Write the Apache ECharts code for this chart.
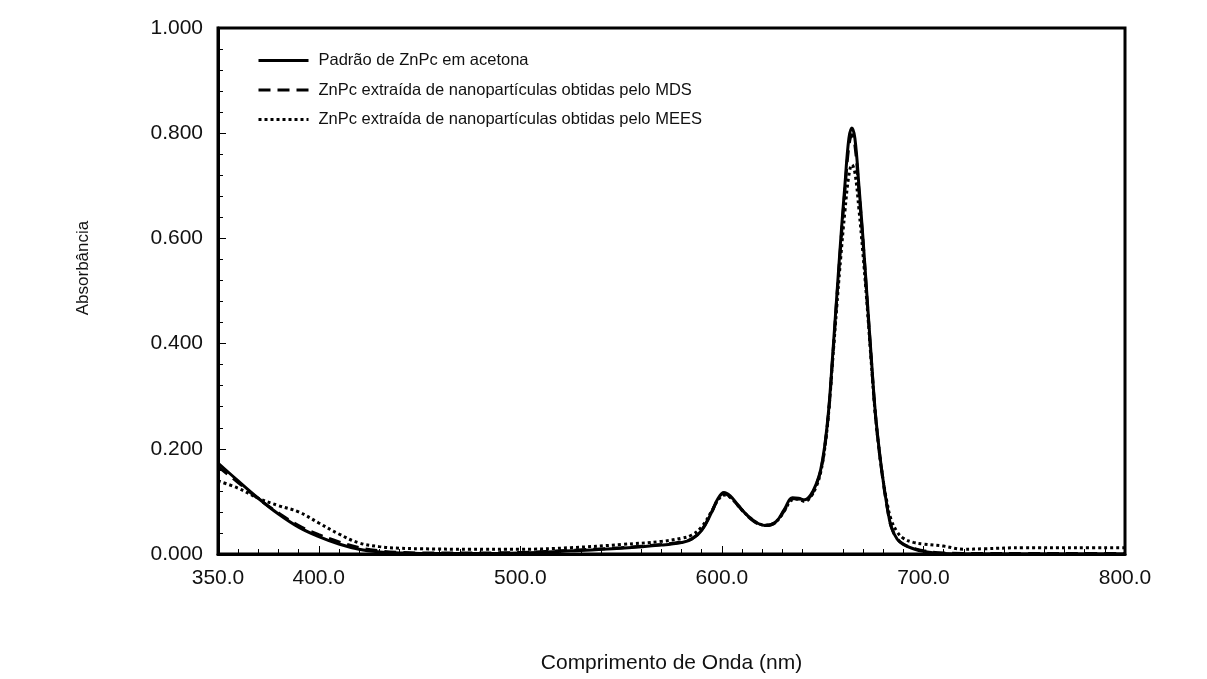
<!DOCTYPE html>
<html>
<head>
<meta charset="utf-8">
<script src="https://cdn.jsdelivr.net/npm/echarts@6/dist/echarts.min.js"></script>
<style>
html,body{margin:0;padding:0;background:#fff;}
#chart{width:1207px;height:679px;}
</style>
</head>
<body>
<div id="chart"></div>
<script>
var wavelengths = [350,360,370,380,390,400,410,420,430,440,450,475,500,525,550,570,580,585,590,595,598,601,604,608,613,618,622,627,631,635,638,641,644,647,649,651,653,655,657,659,661,663,664.5,666,668,670,672,674,676,678,680,682,684,687,690,695,700,710,720,730,750,775,800];

var padrao = [0.173,0.139,0.106,0.076,0.051,0.033,0.019,0.009,0.004,0.002,0.001,0.001,0.002,0.006,0.011,0.017,0.022,0.028,0.045,0.080,0.105,0.117,0.111,0.093,0.072,0.058,0.054,0.062,0.085,0.107,0.106,0.103,0.112,0.135,0.160,0.205,0.275,0.38,0.49,0.60,0.70,0.79,0.81,0.79,0.70,0.60,0.49,0.38,0.275,0.20,0.14,0.09,0.052,0.028,0.018,0.010,0.005,0.001,0.000,0.000,0.000,0.000,0.000];

var mds = [0.166,0.136,0.105,0.078,0.054,0.037,0.023,0.012,0.006,0.003,0.002,0.002,0.003,0.007,0.012,0.018,0.023,0.029,0.046,0.080,0.104,0.115,0.109,0.092,0.071,0.057,0.054,0.061,0.083,0.105,0.105,0.102,0.110,0.134,0.158,0.202,0.272,0.375,0.485,0.59,0.69,0.775,0.797,0.777,0.69,0.595,0.485,0.377,0.272,0.198,0.138,0.089,0.052,0.029,0.019,0.011,0.006,0.002,0.001,0.001,0.001,0.001,0.001];

var mees = [0.139,0.125,0.106,0.092,0.080,0.059,0.038,0.021,0.014,0.011,0.010,0.009,0.009,0.012,0.018,0.024,0.030,0.036,0.052,0.082,0.102,0.112,0.108,0.092,0.072,0.058,0.055,0.062,0.082,0.103,0.104,0.100,0.108,0.130,0.155,0.200,0.27,0.37,0.47,0.565,0.65,0.72,0.74,0.725,0.655,0.57,0.475,0.37,0.27,0.197,0.14,0.097,0.065,0.042,0.030,0.022,0.019,0.015,0.009,0.010,0.012,0.012,0.012];

var seriesNames = ['Padrão de ZnPc em acetona','ZnPc extraída de nanopartículas obtidas pelo MDS','ZnPc extraída de nanopartículas obtidas pelo MEES'];
var xLabelValues = [350,400,500,600,700,800];
var xMajorTicks = [400,500,600,700,800];
var xTitle = 'Comprimento de Onda (nm)';
var yTitle = 'Absorbância';

function pairs(ys){ return wavelengths.map(function(x,i){ return [x, ys[i]]; }); }

var chart = echarts.init(document.getElementById('chart'), null, {renderer:'canvas'});
var font = '"Liberation Sans", Arial, sans-serif';
chart.setOption({
  backgroundColor:'#ffffff',
  animation:false,
  grid:{left:218,right:82,top:28,bottom:124,show:true,borderColor:'#000',borderWidth:3,backgroundColor:'transparent'},
  legend:{
    orient:'vertical', left:252, top:47, itemWidth:50, itemHeight:14, itemGap:12.5,
    itemStyle:{opacity:0},
    lineStyle:{width:3},
    textStyle:{fontFamily:font,fontSize:16.5,color:'#111',padding:[0,0,0,5],lineHeight:17},
    data:seriesNames
  },
  graphic:[{
    type:'text', x:83, y:268, rotation:Math.PI/2,
    style:{text:yTitle, font:'17px "Liberation Sans", Arial, sans-serif', fill:'#111', align:'center', verticalAlign:'middle'}
  }],
  xAxis:{
    type:'value', min:350, max:800, interval:50,
    axisLine:{lineStyle:{color:'#000',width:3}},
    axisTick:{inside:true,length:8,lineStyle:{color:'#000',width:1},customValues:xMajorTicks},
    minorTick:{show:true,splitNumber:5,length:5,lineStyle:{color:'#000',width:1}},
    axisLabel:{customValues:xLabelValues,formatter:function(v){return v.toFixed(1);},fontFamily:font,fontSize:21,color:'#111',margin:14},
    splitLine:{show:false},
    name:xTitle, nameLocation:'middle', nameGap:99,
    nameTextStyle:{fontFamily:font,fontSize:21,color:'#111'}
  },
  yAxis:{
    type:'value', min:0, max:1, interval:0.2,
    axisLine:{lineStyle:{color:'#000',width:3}},
    axisTick:{inside:true,length:8,lineStyle:{color:'#000',width:1}},
    minorTick:{show:true,splitNumber:5,length:5,lineStyle:{color:'#000',width:1}},
    axisLabel:{formatter:function(v){return v.toFixed(3);},fontFamily:font,fontSize:21,color:'#111',margin:15},
    splitLine:{show:false}
  },
  series:[
    {name:seriesNames[0],type:'line',data:pairs(padrao),smooth:0.4,symbol:'none',z:5,
     lineStyle:{color:'#000',width:3,type:'solid'},itemStyle:{color:'#000'}},
    {name:seriesNames[1],type:'line',data:pairs(mds),smooth:0.4,symbol:'none',z:4,
     lineStyle:{color:'#000',width:3,type:[12,7]},itemStyle:{color:'#000'}},
    {name:seriesNames[2],type:'line',data:pairs(mees),smooth:0.4,symbol:'none',z:3,
     lineStyle:{color:'#000',width:3,type:[3,3]},itemStyle:{color:'#000'}}
  ]
});
</script>
</body>
</html>
